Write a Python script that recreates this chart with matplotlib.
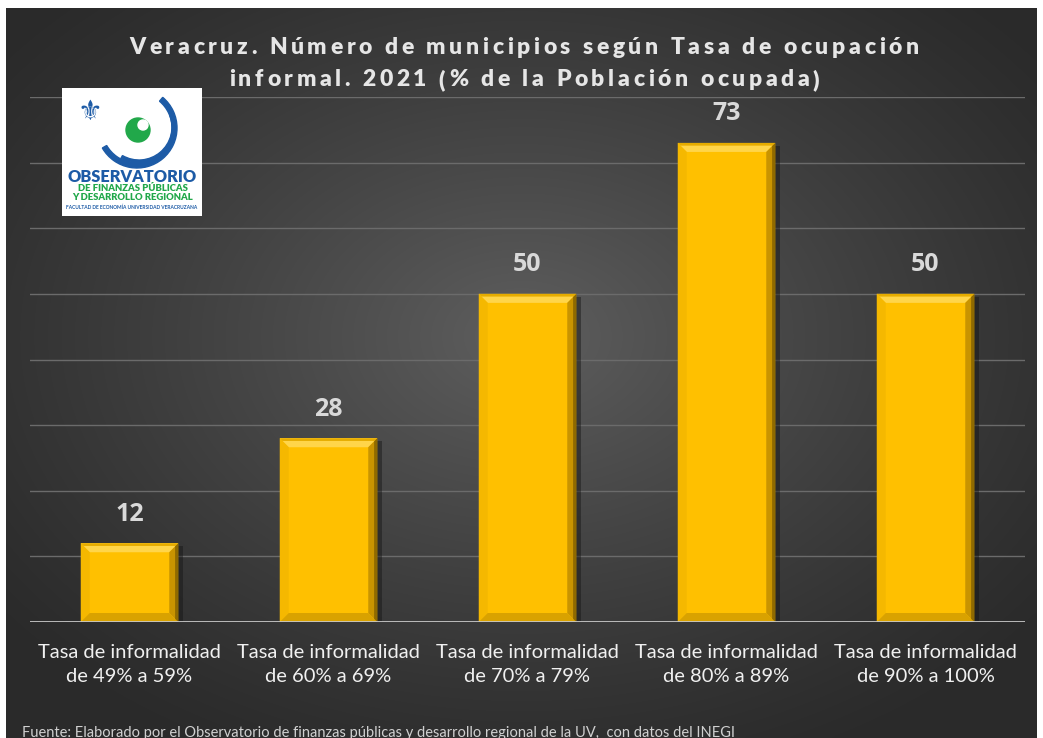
import numpy as np
import matplotlib.pyplot as plt
from matplotlib.patches import Polygon, Rectangle, Wedge, Circle

# datos
categorias = ["Tasa de informalidad\nde 49% a 59%",
              "Tasa de informalidad\nde 60% a 69%",
              "Tasa de informalidad\nde 70% a 79%",
              "Tasa de informalidad\nde 80% a 89%",
              "Tasa de informalidad\nde 90% a 100%"]
municipios = [12, 28, 50, 73, 50]

titulo = ["Veracruz. Número de municipios según Tasa de ocupación",
          "informal. 2021 (% de la Población ocupada)"]
fuente = "Fuente: Elaborado por el Observatorio de finanzas públicas y desarrollo regional de la UV,  con datos del INEGI"

W, H = 1043, 738
plt.rcParams['font.family'] = ['Lato', 'DejaVu Sans']

fig = plt.figure(figsize=(W / 100, H / 100), dpi=100)
fig.patch.set_facecolor('white')


def fx(px):
    return px / W


def fy(py):
    return 1 - py / H


# texto con espaciado entre letras
def texto_espaciado(s, xc, yc, esp, **kw):
    rend = fig.canvas.get_renderer()
    anchos = []
    for ch in s:
        if ch == ' ':
            t = fig.text(0, 0, 'a a', **kw)
            t2 = fig.text(0, 0, 'aa', **kw)
            w = t.get_window_extent(rend).width - t2.get_window_extent(rend).width
            t.remove()
            t2.remove()
        else:
            t = fig.text(0, 0, ch, **kw)
            w = t.get_window_extent(rend).width
            t.remove()
        anchos.append(w)
    total = sum(anchos) + esp * (len(s) - 1)
    xpos = xc - total / 2
    for ch, w in zip(s, anchos):
        if ch != ' ':
            fig.text(fx(xpos), fy(yc), ch, ha='left', va='center', **kw)
        xpos += w + esp


# fondo con degradado radial
bg = fig.add_axes((fx(6), 0, fx(1037 - 6), 1 - 8 / H))
bg.set_axis_off()
yy, xx = np.mgrid[0:1:300j, 0:1:400j]
r = np.sqrt(((xx - 0.5) / 0.65) ** 2 + ((yy - 0.45) / 0.65) ** 2)
r = np.clip(r, 0, 1)
c_centro, c_borde = 0.37, 0.165
val = c_borde + (c_centro - c_borde) * (1 - r) ** 1.2
bg.imshow(np.dstack([val, val, val]), aspect='auto', extent=(0, 1, 0, 1),
          origin='upper', interpolation='bicubic')
bg.set_xlim(0, 1)
bg.set_ylim(0, 1)

# eje principal
ax = fig.add_axes((fx(30), fy(622), fx(1025 - 30), (622 - 97) / H))
ax.patch.set_alpha(0)
ax.set_xlim(-0.5, len(municipios) - 0.5)
ax.set_ylim(0, 80)
ax.set_yticks(np.arange(10, 81, 10))
ax.yaxis.grid(True, color='#6b6b6b', linewidth=1)
ax.set_axisbelow(True)
for s in ax.spines.values():
    s.set_visible(False)
ax.tick_params(left=False, labelleft=False, bottom=False)
ax.axhline(0, color='#c8c8c8', linewidth=2, zorder=4)

x = np.arange(len(municipios))
ancho = 0.49
barras = ax.bar(x, municipios, width=ancho, color='#FFC000', zorder=3,
                linewidth=0)

# bisel de las barras
px_x = (1025 - 30) / (len(municipios))  # px por unidad x
px_y = (622 - 97) / 80.0  # px por unidad y
bx = 9 / px_x
by = 9 / px_y
sx = 5 / px_x
for b in barras:
    x0 = b.get_x()
    x1 = x0 + b.get_width()
    h = b.get_height()
    # sombra
    ax.add_patch(Rectangle((x1, 0), sx, h - by * 0.3, color='#151515',
                           alpha=0.45, zorder=2, linewidth=0))
    # parte superior clara
    ax.add_patch(Polygon([(x0, h), (x1, h), (x1 - bx, h - by), (x0 + bx, h - by)],
                         closed=True, color='#FFD54A', zorder=3.5, linewidth=0))
    ax.add_patch(Polygon([(x0, h), (x1, h), (x1 - bx * 0.3, h - by * 0.3),
                          (x0 + bx * 0.3, h - by * 0.3)],
                         closed=True, color='#E6AC00', zorder=3.6, linewidth=0))
    # lado izquierdo
    ax.add_patch(Polygon([(x0, h), (x0 + bx, h - by), (x0 + bx, by), (x0, 0)],
                         closed=True, color='#F5B800', zorder=3.5, linewidth=0))
    # lado derecho oscuro
    ax.add_patch(Polygon([(x1, h), (x1 - bx, h - by), (x1 - bx, by), (x1, 0)],
                         closed=True, color='#C99400', zorder=3.5, linewidth=0))
    ax.add_patch(Polygon([(x1, h), (x1 - bx * 0.35, h - by * 0.35),
                          (x1 - bx * 0.35, by * 0.35), (x1, 0)],
                         closed=True, color='#8F6A00', zorder=3.6, linewidth=0))
    # parte inferior
    ax.add_patch(Polygon([(x0, 0), (x1, 0), (x1 - bx, by), (x0 + bx, by)],
                         closed=True, color='#D9A200', zorder=3.5, linewidth=0))
    ax.annotate(str(h), (b.get_x() + b.get_width() / 2, h),
                xytext=(0, 12), textcoords='offset points', ha='center',
                va='bottom', fontsize=18, fontweight='bold', color='#d9d9d9',
                family=['Open Sans', 'DejaVu Sans'], zorder=5)

ax.set_xticks(x)
ax.set_xticklabels(categorias, fontsize=14.5, color='#f0f0f0', linespacing=1.5)
ax.tick_params(axis='x', pad=12)

# titulo
texto_espaciado(titulo[0], 524, 47, 3.6, fontsize=16.5, fontweight='heavy',
                color='#e6e6e6')
texto_espaciado(titulo[1], 524, 80, 3.6, fontsize=16.5, fontweight='heavy',
                color='#e6e6e6')

# fuente
fig.text(fx(22), fy(740), fuente, ha='left', va='bottom', fontsize=10.5,
         color='#d0d0d0')

# logo
lg = fig.add_axes((fx(62), fy(216), fx(202 - 62), (216 - 88) / H))
lg.set_xlim(0, 140)
lg.set_ylim(0, 128)
lg.set_facecolor('white')
lg.set_xticks([])
lg.set_yticks([])
for s in lg.spines.values():
    s.set_visible(False)
azul = '#1d5ba6'
verde = '#21a84a'
lg.add_patch(Wedge((75, 88), 40, -150, 50, width=5, color=azul))
lg.add_patch(Wedge((77, 89), 36, -120, 20, width=3, color=azul))
lg.add_patch(Circle((76, 86), 12, color=verde))
lg.add_patch(Circle((81, 91), 5, color='white'))
lg.text(28, 104, "⚜", ha='center', va='center', fontsize=20, color=azul,
        family='DejaVu Sans')
lg.text(70, 39, "OBSERVATORIO", ha='center', va='center', fontsize=11.8,
        fontweight='heavy', color=azul)
lg.text(71, 27.5, "DE FINANZAS PÚBLICAS", ha='center', va='center', fontsize=6.8,
        fontweight='heavy', color=verde)
lg.text(71, 18.5, "Y DESARROLLO REGIONAL", ha='center', va='center', fontsize=6.8,
        fontweight='heavy', color=verde)
lg.text(70, 9, "FACULTAD DE ECONOMÍA UNIVERSIDAD VERACRUZANA", ha='center',
        va='center', fontsize=3.5, fontweight='bold', color=azul)

fig.savefig('out.png', dpi=100)
